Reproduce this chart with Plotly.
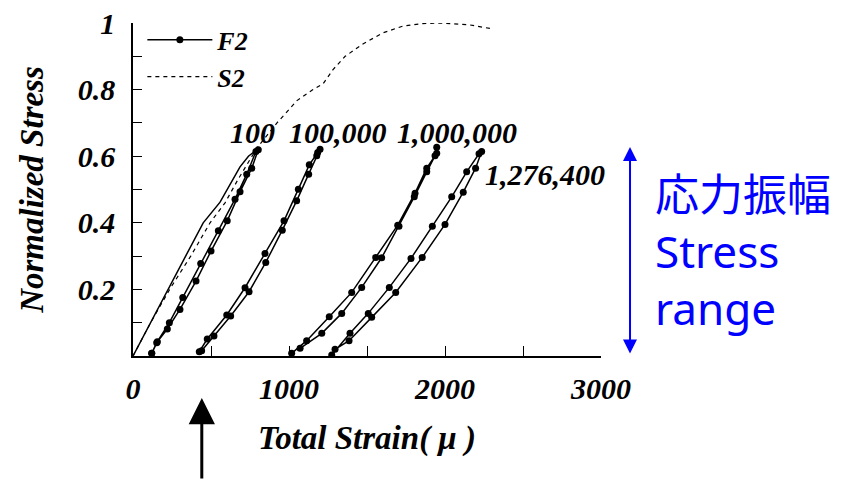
import plotly.graph_objects as go

# ---------------- data ----------------
x_ticks = [0, 1000, 2000, 3000]
x_tick_text = ["0", "1000", "2000", "3000"]
y_ticks = [0.2, 0.4, 0.6, 0.8, 1.0]
y_tick_text = ["0.2", "0.4", "0.6", "0.8", "1"]

# S2 monotonic curve
s2_x = [0, 113, 235, 370, 494, 590, 673, 795, 923, 1051, 1154, 1218, 1282, 1360, 1474, 1600, 1731, 1850, 1968, 2150, 2308]
s2_y = [0, 0.1, 0.2, 0.3, 0.4, 0.46, 0.53, 0.625, 0.70, 0.767, 0.80, 0.817, 0.86, 0.90, 0.937, 0.97, 0.991, 0.998, 1.0, 0.995, 0.982]

# F2 first loading (no markers)
f2_load_x = [0, 113, 226, 333, 450, 558, 620, 686, 740, 795]
f2_load_y = [0, 0.1, 0.2, 0.294, 0.40, 0.462, 0.515, 0.568, 0.60, 0.62]

# F2 loops: lower (loading) branch then upper (unloading) branch
loop100_up_x = [120, 156, 220, 301, 404, 500, 604, 686, 761, 803]
loop100_up_y = [0.008, 0.043, 0.081, 0.140, 0.225, 0.315, 0.406, 0.493, 0.564, 0.619]
loop100_dn_x = [788, 729, 654, 547, 434, 319, 233, 152, 120]
loop100_dn_y = [0.614, 0.546, 0.471, 0.376, 0.278, 0.176, 0.100, 0.040, 0.008]

loop1e5_up_x = [440, 519, 626, 744, 851, 957, 1049, 1126, 1178, 1199]
loop1e5_up_y = [0.016, 0.060, 0.120, 0.193, 0.281, 0.378, 0.466, 0.546, 0.601, 0.621]
loop1e5_dn_x = [1184, 1130, 1060, 968, 846, 718, 601, 476, 425]
loop1e5_dn_y = [0.611, 0.574, 0.501, 0.406, 0.308, 0.205, 0.123, 0.051, 0.013]

loop1e6_up_x = [1071, 1210, 1338, 1466, 1594, 1705, 1803, 1883, 1936, 1947]
loop1e6_up_y = [0.023, 0.068, 0.128, 0.206, 0.295, 0.390, 0.478, 0.553, 0.601, 0.627]
loop1e6_dn_x = [1947, 1883, 1808, 1697, 1556, 1402, 1258, 1113, 1017]
loop1e6_dn_y = [0.609, 0.564, 0.489, 0.393, 0.296, 0.191, 0.118, 0.046, 0.008]

loopf_up_x = [1295, 1385, 1530, 1684, 1854, 2000, 2117, 2196, 2235]
loopf_up_y = [0.020, 0.046, 0.116, 0.191, 0.296, 0.395, 0.492, 0.564, 0.614]
loopf_dn_x = [2218, 2139, 2043, 1919, 1782, 1643, 1508, 1391, 1274]
loopf_dn_y = [0.607, 0.553, 0.478, 0.390, 0.293, 0.206, 0.128, 0.068, 0.003]

cycle_labels = ["100", "100,000", "1,000,000", "1,276,400"]

# ---------------- figure ----------------
SERIF = "Liberation Serif"
bi = dict(family=SERIF, weight="bold", style="italic", color="black")

fig = go.Figure()

loops = [
    (loop100_up_x + loop100_dn_x, loop100_up_y + loop100_dn_y),
    (loop1e5_up_x + loop1e5_dn_x, loop1e5_up_y + loop1e5_dn_y),
    (loop1e6_up_x + loop1e6_dn_x, loop1e6_up_y + loop1e6_dn_y),
    (loopf_up_x + loopf_dn_x, loopf_up_y + loopf_dn_y),
]

for i, (lx, ly) in enumerate(loops):
    fig.add_trace(go.Scatter(
        x=lx, y=ly, mode="lines+markers", name="F2",
        line=dict(color="black", width=1.5),
        marker=dict(color="black", size=7),
        legendgroup="F2", showlegend=(i == 0),
    ))

fig.add_trace(go.Scatter(
    x=f2_load_x, y=f2_load_y, mode="lines", name="F2",
    line=dict(color="black", width=1.5),
    legendgroup="F2", showlegend=False,
))

fig.add_trace(go.Scatter(
    x=s2_x, y=s2_y, mode="lines", name="S2",
    line=dict(color="black", width=1.2, dash="4px,4px"),
))

# cycle labels
label_pos = [(609, 0.67), (987, 0.67), (1679, 0.67), (2244, 0.544)]
for txt, (lx, ly) in zip(cycle_labels, label_pos):
    fig.add_annotation(x=lx, y=ly, xref="x", yref="y", text=txt, showarrow=False,
                       xanchor="left", yanchor="middle", font=dict(size=30, **bi))

# bottom black arrow
fig.add_annotation(x=0.147, y=-0.126, xref="paper", yref="paper", text="",
                   showarrow=True, ax=0, ay=82, arrowhead=2, arrowwidth=3,
                   arrowsize=1.75, arrowcolor="black", standoff=0)

# blue double arrow
fig.add_annotation(x=1.062, y=0.628, xref="paper", yref="paper", text="",
                   showarrow=True, ax=0, ay=208, arrowhead=2, startarrowhead=2,
                   arrowside="end+start", arrowwidth=2, arrowsize=1.4,
                   startarrowsize=1.4, arrowcolor="#0000FF", standoff=0, startstandoff=0)

# blue text
fig.add_annotation(x=1.111, y=0.315, xref="paper", yref="paper",
                   text="応力振幅<br>Stress<br>range", showarrow=False,
                   xanchor="left", yanchor="middle", align="left",
                   font=dict(family="Noto Sans, Noto Sans CJK JP", size=44, color="#0000FF"))

fig.update_layout(
    width=856, height=480,
    margin=dict(l=133, r=255, t=23, b=124, autoexpand=False),
    paper_bgcolor="white", plot_bgcolor="white",
    showlegend=True,
    legend=dict(x=0.02, y=1.02, xanchor="left", yanchor="top",
                bgcolor="rgba(0,0,0,0)", font=dict(size=26, **bi),
                itemwidth=65, tracegroupgap=0),
)

fig.update_xaxes(
    range=[0, 3000], showgrid=False, zeroline=False, automargin=False,
    showline=True, linecolor="black", linewidth=1.5,
    tickvals=x_ticks, ticktext=x_tick_text,
    ticks="inside", ticklen=10, tickwidth=1, tickcolor="black",
    minor=dict(ticks="inside", dtick=500, ticklen=10, tickcolor="black", tickwidth=1),
    tickfont=dict(size=30, **bi), ticklabelstandoff=5,
    title=dict(text="Total Strain( μ )", font=dict(size=33, **bi), standoff=22),
)
fig.update_yaxes(
    range=[0, 1.0], showgrid=False, zeroline=False, automargin=False,
    showline=True, linecolor="black", linewidth=1.5,
    tickvals=y_ticks, ticktext=y_tick_text,
    ticks="inside", ticklen=9, tickwidth=1, tickcolor="black",
    minor=dict(ticks="inside", dtick=0.1, ticklen=9, tickcolor="black", tickwidth=1),
    tickfont=dict(size=30, **bi), ticklabelstandoff=10,
    title=dict(text="Normalized Stress", font=dict(size=33, **bi), standoff=24),
)

fig.write_html("out.html", config={"displayModeBar": False},
               post_script="document.body.style.margin='0';")
